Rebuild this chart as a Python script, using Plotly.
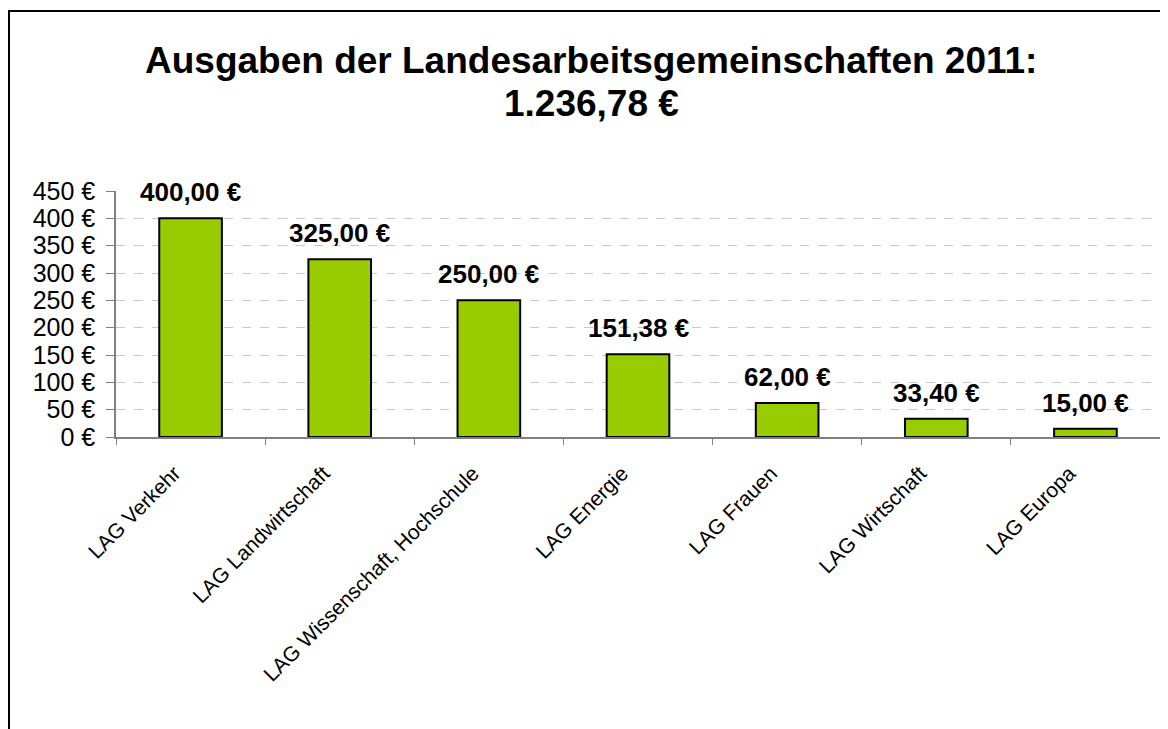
import plotly.graph_objects as go

categories = ["LAG Verkehr", "LAG Landwirtschaft", "LAG Wissenschaft, Hochschule",
              "LAG Energie", "LAG Frauen", "LAG Wirtschaft", "LAG Europa"]
values = [400.00, 325.00, 250.00, 151.38, 62.00, 33.40, 15.00]
value_labels = ["400,00 €", "325,00 €", "250,00 €", "151,38 €", "62,00 €", "33,40 €", "15,00 €"]
y_ticks = [0, 50, 100, 150, 200, 250, 300, 350, 400, 450]
y_tick_labels = [f"{v} €" for v in y_ticks]
title_line1 = "Ausgaben der Landesarbeitsgemeinschaften 2011:"
title_line2 = "1.236,78 €"

FONT = "Liberation Sans, Arial, sans-serif"
W, H = 1168, 729
L, R, T, B = 108, 16, 183, 300
pw = W - L - R
ph = H - T - B
OFF = 8  # page offset of the figure


def py2paper(py):
    return (H - B + OFF - py) / ph


def px2paper(px):
    return (px - OFF - L) / pw


fig = go.Figure()
fig.add_trace(go.Bar(
    x=categories, y=values,
    marker=dict(color="#99CC00", line=dict(color="black", width=2)),
    width=0.42, showlegend=False, hoverinfo="skip",
))

for c, v, lab in zip(categories, values, value_labels):
    fig.add_annotation(x=c, y=v, text=f"<b>{lab}</b>", showarrow=False,
                       yanchor="bottom", yshift=9,
                       font=dict(family=FONT, size=26, color="black"))

fig.add_annotation(xref="paper", yref="paper", x=px2paper(591), y=py2paper(60),
                   xanchor="center", yanchor="middle", showarrow=False,
                   text=f"<b>{title_line1}</b>",
                   font=dict(family=FONT, size=37, color="black"))
fig.add_annotation(xref="paper", yref="paper", x=px2paper(591), y=py2paper(103),
                   xanchor="center", yanchor="middle", showarrow=False,
                   text=f"<b>{title_line2}</b>",
                   font=dict(family=FONT, size=37, color="black"))

fig.add_shape(type="rect", xref="paper", yref="paper",
              x0=px2paper(OFF + 1), x1=px2paper(W + 20),
              y0=py2paper(H + 20), y1=py2paper(11),
              line=dict(color="black", width=2), fillcolor="rgba(0,0,0,0)", layer="below")

fig.update_layout(
    width=W, height=H,
    margin=dict(l=L, r=R, t=T, b=B, autoexpand=False),
    paper_bgcolor="white", plot_bgcolor="white",
    font=dict(family=FONT, color="black"),
    xaxis=dict(type="category", showline=True, linecolor="#808080", linewidth=1.5,
               ticks="outside", tickson="boundaries", ticklen=6, tickcolor="#808080",
               tickangle=-45, tickfont=dict(family=FONT, size=21, color="black"),
               ticklabelstandoff=14, ticklabelshift=-16,
               showgrid=False, zeroline=False),
    yaxis=dict(range=[0, 450], tickvals=y_ticks, ticktext=y_tick_labels,
               showline=True, linecolor="#808080", linewidth=1.5,
               ticks="outside", ticklen=8, tickcolor="#808080",
               tickfont=dict(family=FONT, size=25, color="black"),
               ticklabelstandoff=6,
               showgrid=True, gridcolor="#C8C8C8", griddash="dash", gridwidth=1,
               zeroline=False),
)

fig.write_html("out.html")
